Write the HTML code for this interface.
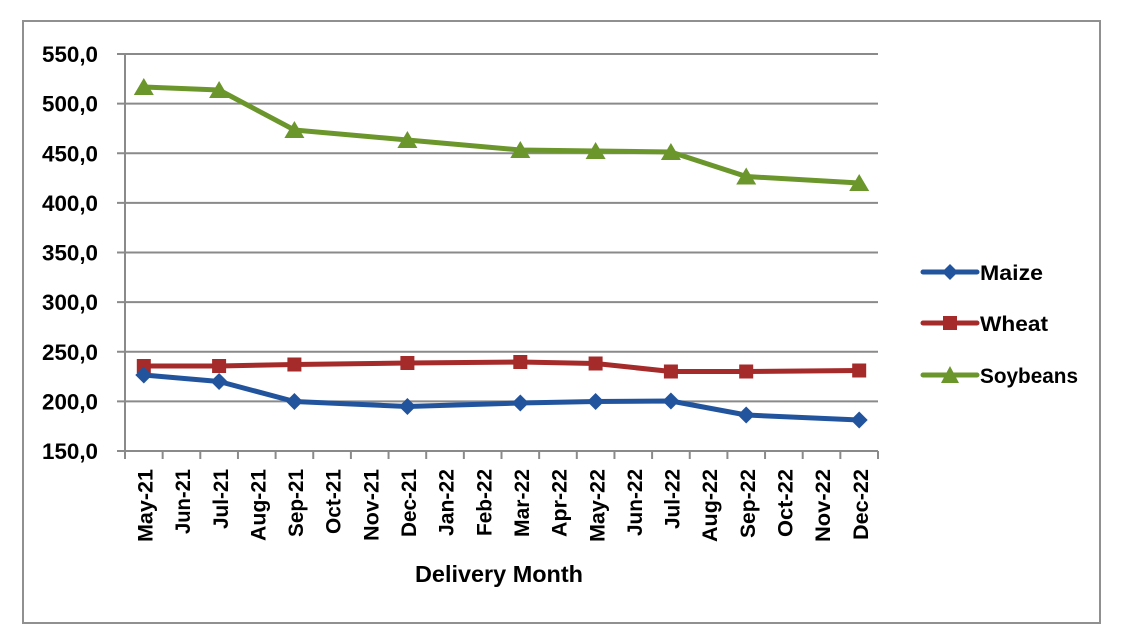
<!DOCTYPE html>
<html><head><meta charset="utf-8"><style>
html,body{margin:0;padding:0;background:#fff;}
svg{display:block;}
text{font-family:"Liberation Sans",Arial,sans-serif;font-weight:bold;fill:#000;}
</style></head><body>
<svg width="1138" height="640" viewBox="0 0 1138 640" xmlns="http://www.w3.org/2000/svg">
<rect x="0" y="0" width="1138" height="640" fill="#fff"/>
<rect x="23" y="21" width="1077" height="602" fill="none" stroke="#909090" stroke-width="2"/>
<g stroke="#8a8a8a" stroke-width="2">
<line x1="117" y1="54" x2="878" y2="54"/>
<line x1="117" y1="103.6" x2="878" y2="103.6"/>
<line x1="117" y1="153.3" x2="878" y2="153.3"/>
<line x1="117" y1="202.9" x2="878" y2="202.9"/>
<line x1="117" y1="252.5" x2="878" y2="252.5"/>
<line x1="117" y1="302.1" x2="878" y2="302.1"/>
<line x1="117" y1="351.8" x2="878" y2="351.8"/>
<line x1="117" y1="401.4" x2="878" y2="401.4"/>
<line x1="117" y1="451" x2="878" y2="451"/>
<line x1="125" y1="54" x2="125" y2="459"/>
</g>
<g font-size="22" text-anchor="end">
<text x="98" y="62" textLength="56" lengthAdjust="spacingAndGlyphs">550,0</text>
<text x="98" y="111.6" textLength="56" lengthAdjust="spacingAndGlyphs">500,0</text>
<text x="98" y="161.3" textLength="56" lengthAdjust="spacingAndGlyphs">450,0</text>
<text x="98" y="210.9" textLength="56" lengthAdjust="spacingAndGlyphs">400,0</text>
<text x="98" y="260.5" textLength="56" lengthAdjust="spacingAndGlyphs">350,0</text>
<text x="98" y="310.1" textLength="56" lengthAdjust="spacingAndGlyphs">300,0</text>
<text x="98" y="359.8" textLength="56" lengthAdjust="spacingAndGlyphs">250,0</text>
<text x="98" y="409.4" textLength="56" lengthAdjust="spacingAndGlyphs">200,0</text>
<text x="98" y="459" textLength="56" lengthAdjust="spacingAndGlyphs">150,0</text>
</g>
<g stroke="#8a8a8a" stroke-width="2">
<line x1="125" y1="451" x2="125" y2="459"/><line x1="162.65" y1="451" x2="162.65" y2="459"/><line x1="200.3" y1="451" x2="200.3" y2="459"/><line x1="237.95" y1="451" x2="237.95" y2="459"/><line x1="275.6" y1="451" x2="275.6" y2="459"/><line x1="313.25" y1="451" x2="313.25" y2="459"/><line x1="350.9" y1="451" x2="350.9" y2="459"/><line x1="388.55" y1="451" x2="388.55" y2="459"/><line x1="426.2" y1="451" x2="426.2" y2="459"/><line x1="463.85" y1="451" x2="463.85" y2="459"/><line x1="501.5" y1="451" x2="501.5" y2="459"/><line x1="539.15" y1="451" x2="539.15" y2="459"/><line x1="576.8" y1="451" x2="576.8" y2="459"/><line x1="614.45" y1="451" x2="614.45" y2="459"/><line x1="652.1" y1="451" x2="652.1" y2="459"/><line x1="689.75" y1="451" x2="689.75" y2="459"/><line x1="727.4" y1="451" x2="727.4" y2="459"/><line x1="765.05" y1="451" x2="765.05" y2="459"/><line x1="802.7" y1="451" x2="802.7" y2="459"/><line x1="840.35" y1="451" x2="840.35" y2="459"/><line x1="878" y1="451" x2="878" y2="459"/>
</g>
<g font-size="21" text-anchor="end">
<text transform="translate(152.5,469) rotate(-90)" textLength="73" lengthAdjust="spacingAndGlyphs">May-21</text>
<text transform="translate(190.1,469) rotate(-90)" textLength="65" lengthAdjust="spacingAndGlyphs">Jun-21</text>
<text transform="translate(227.8,469) rotate(-90)" textLength="60" lengthAdjust="spacingAndGlyphs">Jul-21</text>
<text transform="translate(265.4,469) rotate(-90)" textLength="72" lengthAdjust="spacingAndGlyphs">Aug-21</text>
<text transform="translate(303.1,469) rotate(-90)" textLength="68" lengthAdjust="spacingAndGlyphs">Sep-21</text>
<text transform="translate(340.7,469) rotate(-90)" textLength="65" lengthAdjust="spacingAndGlyphs">Oct-21</text>
<text transform="translate(378.4,469) rotate(-90)" textLength="72" lengthAdjust="spacingAndGlyphs">Nov-21</text>
<text transform="translate(416.0,469) rotate(-90)" textLength="68" lengthAdjust="spacingAndGlyphs">Dec-21</text>
<text transform="translate(453.7,469) rotate(-90)" textLength="67" lengthAdjust="spacingAndGlyphs">Jan-22</text>
<text transform="translate(491.3,469) rotate(-90)" textLength="67" lengthAdjust="spacingAndGlyphs">Feb-22</text>
<text transform="translate(529.0,469) rotate(-90)" textLength="68" lengthAdjust="spacingAndGlyphs">Mar-22</text>
<text transform="translate(566.6,469) rotate(-90)" textLength="68" lengthAdjust="spacingAndGlyphs">Apr-22</text>
<text transform="translate(604.3,469) rotate(-90)" textLength="73" lengthAdjust="spacingAndGlyphs">May-22</text>
<text transform="translate(641.9,469) rotate(-90)" textLength="67" lengthAdjust="spacingAndGlyphs">Jun-22</text>
<text transform="translate(679.6,469) rotate(-90)" textLength="60" lengthAdjust="spacingAndGlyphs">Jul-22</text>
<text transform="translate(717.2,469) rotate(-90)" textLength="73" lengthAdjust="spacingAndGlyphs">Aug-22</text>
<text transform="translate(754.9,469) rotate(-90)" textLength="69" lengthAdjust="spacingAndGlyphs">Sep-22</text>
<text transform="translate(792.5,469) rotate(-90)" textLength="68" lengthAdjust="spacingAndGlyphs">Oct-22</text>
<text transform="translate(830.2,469) rotate(-90)" textLength="73" lengthAdjust="spacingAndGlyphs">Nov-22</text>
<text transform="translate(867.8,469) rotate(-90)" textLength="71" lengthAdjust="spacingAndGlyphs">Dec-22</text>
</g>
<text x="499" y="582" font-size="23" text-anchor="middle" textLength="168" lengthAdjust="spacingAndGlyphs">Delivery Month</text>

<!-- Soybeans -->
<polyline fill="none" stroke="#6b962b" stroke-width="5" stroke-linejoin="round" points="143.8,87 219.1,90 294.4,130 407.4,140 520.3,150 595.6,151 670.9,152 746.2,176.5 859.2,183"/>
<g fill="#6b962b">
<polygon points="143.8,78 153.8,95 133.8,95"/>
<polygon points="219.1,81 229.1,98 209.1,98"/>
<polygon points="294.4,121 304.4,138 284.4,138"/>
<polygon points="407.4,131 417.4,148 397.4,148"/>
<polygon points="520.3,141 530.3,158 510.3,158"/>
<polygon points="595.6,142 605.6,159 585.6,159"/>
<polygon points="670.9,143 680.9,160 660.9,160"/>
<polygon points="746.2,167.5 756.2,184.5 736.2,184.5"/>
<polygon points="859.2,174 869.2,191 849.2,191"/>
</g>
<!-- Wheat -->
<polyline fill="none" stroke="#a52a2a" stroke-width="5" stroke-linejoin="round" points="143.8,366 219.1,366 294.4,364.5 407.4,363 520.3,362 595.6,363.5 670.9,371.5 746.2,371.5 859.2,370.5"/>
<g fill="#a52a2a">
<rect x="136.8" y="359" width="14" height="14"/>
<rect x="212.1" y="359" width="14" height="14"/>
<rect x="287.4" y="357.5" width="14" height="14"/>
<rect x="400.4" y="356" width="14" height="14"/>
<rect x="513.3" y="355" width="14" height="14"/>
<rect x="588.6" y="356.5" width="14" height="14"/>
<rect x="663.9" y="364.5" width="14" height="14"/>
<rect x="739.2" y="364.5" width="14" height="14"/>
<rect x="852.2" y="363.5" width="14" height="14"/>
</g>
<!-- Maize -->
<polyline fill="none" stroke="#22549e" stroke-width="5" stroke-linejoin="round" points="143.8,375 219.1,381.5 294.4,401.5 407.4,406.5 520.3,403 595.6,401.5 670.9,401 746.2,415 859.2,420"/>
<g fill="#22549e">
<polygon points="143.8,366.5 152.3,375 143.8,383.5 135.3,375"/>
<polygon points="219.1,373 227.6,381.5 219.1,390 210.6,381.5"/>
<polygon points="294.4,393 302.9,401.5 294.4,410 285.9,401.5"/>
<polygon points="407.4,398 415.9,406.5 407.4,415 398.9,406.5"/>
<polygon points="520.3,394.5 528.8,403 520.3,411.5 511.8,403"/>
<polygon points="595.6,393 604.1,401.5 595.6,410 587.1,401.5"/>
<polygon points="670.9,392.5 679.4,401 670.9,409.5 662.4,401"/>
<polygon points="746.2,406.5 754.7,415 746.2,423.5 737.7,415"/>
<polygon points="859.2,411.5 867.7,420 859.2,428.5 850.7,420"/>
</g>

<!-- Legend -->
<line x1="923" y1="272" x2="977" y2="272" stroke="#22549e" stroke-width="5" stroke-linecap="round"/>
<polygon points="950,264 958,272 950,280 942,272" fill="#22549e"/>
<text x="980" y="280" font-size="21" textLength="63" lengthAdjust="spacingAndGlyphs">Maize</text>
<line x1="923" y1="323" x2="977" y2="323" stroke="#a52a2a" stroke-width="5" stroke-linecap="round"/>
<rect x="943" y="316" width="14" height="14" fill="#a52a2a"/>
<text x="980" y="331" font-size="21" textLength="68" lengthAdjust="spacingAndGlyphs">Wheat</text>
<line x1="923" y1="375" x2="977" y2="375" stroke="#6b962b" stroke-width="5" stroke-linecap="round"/>
<polygon points="950,366 959,383 941,383" fill="#6b962b"/>
<text x="980" y="383" font-size="21" textLength="98" lengthAdjust="spacingAndGlyphs">Soybeans</text>
</svg>
</body></html>
